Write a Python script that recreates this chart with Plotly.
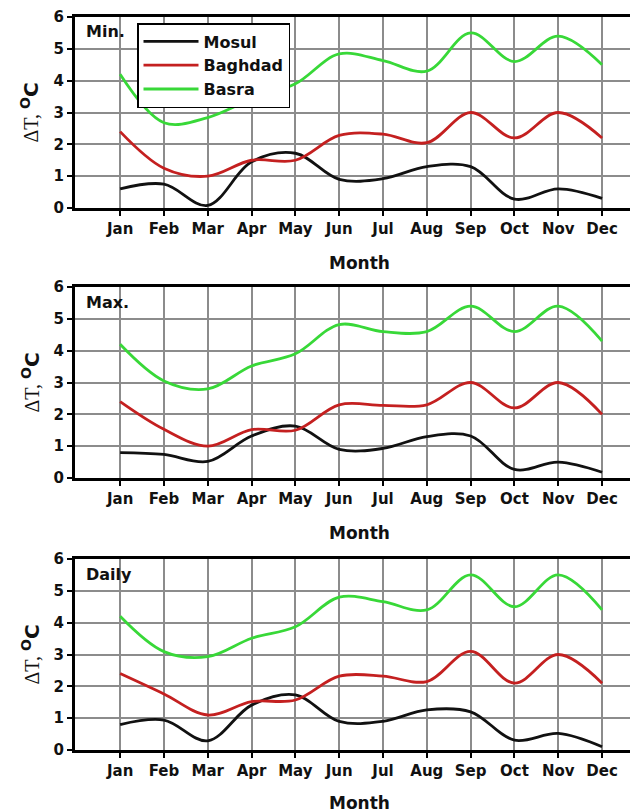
import plotly.graph_objects as go

months = ["Jan", "Feb", "Mar", "Apr", "May", "Jun", "Jul", "Aug", "Sep", "Oct", "Nov", "Dec"]
month_num = list(range(1, 13))
cities = ["Mosul", "Baghdad", "Basra"]

min_mosul = [0.6, 0.75, 0.08, 1.45, 1.72, 0.9, 0.92, 1.3, 1.3, 0.28, 0.6, 0.3]
min_baghdad = [2.4, 1.25, 1.0, 1.5, 1.5, 2.28, 2.32, 2.05, 3.0, 2.2, 3.0, 2.2]
min_basra = [4.2, 2.68, 2.84, 3.42, 3.9, 4.84, 4.63, 4.3, 5.5, 4.6, 5.4, 4.5]

max_mosul = [0.8, 0.74, 0.52, 1.32, 1.63, 0.9, 0.93, 1.3, 1.32, 0.27, 0.5, 0.18]
max_baghdad = [2.4, 1.53, 1.0, 1.52, 1.5, 2.3, 2.28, 2.3, 3.0, 2.2, 3.0, 2.0]
max_basra = [4.2, 3.05, 2.8, 3.52, 3.9, 4.82, 4.6, 4.6, 5.4, 4.6, 5.4, 4.3]

daily_mosul = [0.8, 0.94, 0.29, 1.41, 1.73, 0.9, 0.9, 1.26, 1.2, 0.31, 0.52, 0.1]
daily_baghdad = [2.4, 1.76, 1.1, 1.52, 1.57, 2.32, 2.32, 2.15, 3.1, 2.1, 3.0, 2.1]
daily_basra = [4.2, 3.09, 2.93, 3.51, 3.87, 4.8, 4.66, 4.4, 5.5, 4.5, 5.5, 4.4]

panels = [
    ("Min.", [min_mosul, min_baghdad, min_basra]),
    ("Max.", [max_mosul, max_baghdad, max_basra]),
    ("Daily", [daily_mosul, daily_baghdad, daily_basra]),
]
colors = ["#111111", "#c42020", "#38d838"]
y_ticks = [0, 1, 2, 3, 4, 5, 6]

# the page places the figure 8px in from the top-left corner
OFF = 8
W, H = 638 - OFF, 812 - OFF
L = 75 - OFF


def px_x(px):
    return (px - OFF - L) / (W - L)


def px_y(py):
    return 1 - (py - OFF) / H


# window-pixel top/bottom of each panel's plot area
panel_px = [(17, 208), (287, 478), (559, 750)]
month_title_gap = [55, 55, 53]

FONT = "DejaVu Sans"
fig = go.Figure()
annotations = []

for i, (label, series) in enumerate(panels):
    ax = "" if i == 0 else str(i + 1)
    for j, (city, vals) in enumerate(zip(cities, series)):
        fig.add_trace(go.Scatter(
            x=month_num, y=vals, mode="lines", name=city,
            line=dict(color=colors[j], width=2.8, shape="spline", smoothing=1.0),
            xaxis="x" + ax, yaxis="y" + ax, showlegend=(i == 0),
        ))
    top, bot = panel_px[i]
    dom = [px_y(bot), px_y(top)]
    axis_common = dict(
        showline=True, linecolor="black", linewidth=3,
        showgrid=True, gridcolor="#8c8c8c", gridwidth=1.5,
        ticks="outside", ticklen=5, tickwidth=1.5, tickcolor="black",
        zeroline=False, automargin=False,
        tickfont=dict(family=FONT, size=15, color="#111", weight="bold"),
    )
    fig.update_layout({
        "xaxis" + ax: dict(
            domain=[0, 1], anchor="y" + ax, range=[-0.03, 12.82],
            tickmode="array", tickvals=month_num, ticktext=months,
            mirror=True, **axis_common,
        ),
        "yaxis" + ax: dict(
            domain=dom, anchor="x" + ax, range=[0, 6],
            tickmode="array", tickvals=y_ticks, ticktext=[str(v) for v in y_ticks],
            **axis_common,
        ),
    })
    annotations.append(dict(
        text="Month", xref="paper", yref="paper", x=px_x(359),
        y=px_y(bot + month_title_gap[i]), xanchor="center", yanchor="middle", showarrow=False,
        font=dict(family=FONT, size=17, color="#111", weight="bold"),
    ))
    annotations.append(dict(
        text='<span style="font-family:Liberation Serif">ΔT, </span><b><sup>O</sup>C</b>',
        xref="paper", yref="paper", x=px_x(30), y=px_y((top + bot) / 2),
        xanchor="center", yanchor="middle", showarrow=False, textangle=-90,
        font=dict(family=FONT, size=20, color="#111"),
    ))
    annotations.append(dict(
        text="<b>" + label + "</b>", xref="paper", yref="paper",
        x=px_x(84), y=px_y(top + 15), xanchor="left", yanchor="middle",
        showarrow=False, font=dict(family=FONT, size=16, color="#111"),
    ))

fig.update_layout(
    width=W, height=H,
    margin=dict(l=L, r=0, t=0, b=0, autoexpand=False),
    paper_bgcolor="white", plot_bgcolor="white",
    annotations=annotations,
    legend=dict(
        x=px_x(137), y=px_y(23), xanchor="left", yanchor="top",
        bgcolor="white", bordercolor="black", borderwidth=1.5,
        font=dict(family=FONT, size=16, color="#111", weight="bold"),
        itemwidth=55, tracegroupgap=0,
    ),
)

fig.write_html("out.html")
